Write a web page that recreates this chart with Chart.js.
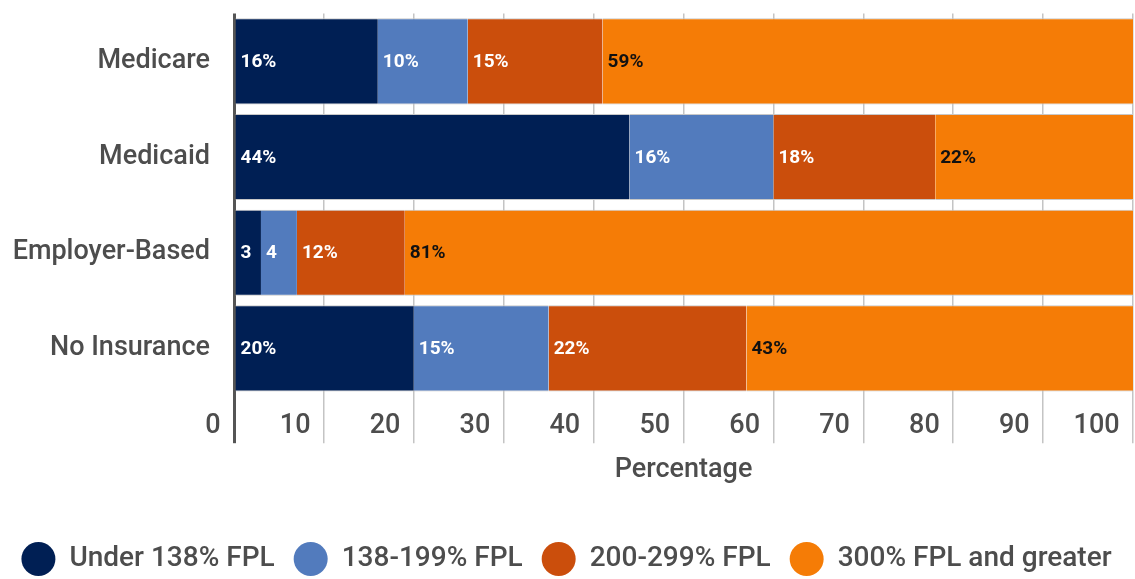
<!DOCTYPE html>
<html>
<head>
<meta charset="utf-8">
<script src="https://cdn.jsdelivr.net/npm/chart.js@4"></script>
<style>
  html, body { margin: 0; padding: 0; background: #fff; }
  #wrap { width: 1135px; height: 579px; position: relative; }
</style>
</head>
<body>
<div id="wrap"><canvas id="fplChart"></canvas></div>
<script>
const categories = ['Medicare', 'Medicaid', 'Employer-Based', 'No Insurance'];
const under138 = [16, 44, 3, 20];
const fpl138to199 = [10, 16, 4, 15];
const fpl200to299 = [15, 18, 12, 22];
const fpl300plus = [59, 22, 81, 43];
const seriesNames = ['Under 138% FPL', '138-199% FPL', '200-299% FPL', '300% FPL and greater'];
const xTicks = [0, 10, 20, 30, 40, 50, 60, 70, 80, 90, 100];

const colors = ['#001f54', '#527bbd', '#cb4e0c', '#f57c06'];
const labelColors = ['#ffffff', '#ffffff', '#ffffff', '#111111'];
const textColor = '#4d4d4d';
const font = { family: 'Roboto', size: 27, weight: '500' };

// value text at the left edge of each segment
const segmentLabels = {
    id: 'segmentLabels',
    afterDatasetsDraw(chart) {
        const ctx = chart.ctx;
        ctx.save();
        ctx.font = 'bold 19px Roboto';
        ctx.textBaseline = 'middle';
        ctx.textAlign = 'left';
        chart.data.datasets.forEach((ds, i) => {
            chart.getDatasetMeta(i).data.forEach((bar, j) => {
                const v = ds.data[j];
                ctx.fillStyle = labelColors[i];
                ctx.fillText(v < 10 ? String(v) : v + '%', Math.min(bar.base, bar.x) + 5, bar.y + 1);
            });
        });
        ctx.restore();
    }
};

const allSeries = [under138, fpl138to199, fpl200to299, fpl300plus];
const isZero = ctx => ctx.tick && ctx.tick.value === 0;

new Chart(document.getElementById('fplChart'), {
    type: 'bar',
    data: {
        labels: categories,
        datasets: allSeries.map((values, i) => ({
            label: seriesNames[i],
            data: values,
            backgroundColor: colors[i],
            borderColor: '#c8c8c8',
            borderWidth: { top: 1, bottom: 1, left: 0, right: 0 },
            borderSkipped: false,
            barPercentage: 0.9,
            categoryPercentage: 1.0
        }))
    },
    options: {
        indexAxis: 'y',
        responsive: true,
        maintainAspectRatio: false,
        animation: false,
        layout: { padding: { left: 0, right: 2, top: 13, bottom: -4 } },
        plugins: {
            legend: {
                position: 'bottom',
                labels: {
                    usePointStyle: true,
                    pointStyle: 'circle',
                    boxHeight: 24,
                    pointStyleWidth: 34,
                    padding: 19,
                    color: textColor,
                    font: { family: 'Roboto', size: 28, weight: '500' },
                    generateLabels(chart) {
                        const items = Chart.defaults.plugins.legend.labels.generateLabels(chart);
                        items.forEach(it => { it.lineWidth = 0; it.strokeStyle = 'rgba(0,0,0,0)'; });
                        return items;
                    }
                }
            },
            tooltip: { enabled: false }
        },
        scales: {
            x: {
                stacked: true,
                min: 0,
                max: 100,
                afterBuildTicks(axis) {
                    axis.ticks = xTicks.map(v => ({ value: v }));
                },
                grid: {
                    color: ctx => isZero(ctx) ? '#555555' : '#c4c4c4',
                    lineWidth: ctx => isZero(ctx) ? 3 : 1.5,
                    tickLength: 47,
                    tickColor: ctx => isZero(ctx) ? '#555555' : '#c4c4c4',
                    tickWidth: ctx => isZero(ctx) ? 3 : 1.5
                },
                border: { display: false },
                ticks: {
                    align: 'end',
                    padding: -33,
                    color: textColor,
                    font: font,
                    callback: v => v + '  '
                },
                title: {
                    display: true,
                    text: 'Percentage',
                    color: textColor,
                    font: font,
                    padding: { top: 44, bottom: 40 }
                }
            },
            y: {
                stacked: true,
                afterFit(axis) {
                    axis.width = 234;
                },
                grid: {
                    drawOnChartArea: false,
                    drawTicks: true,
                    tickLength: 24,
                    color: 'rgba(0,0,0,0)'
                },
                border: { display: false },
                ticks: {
                    padding: 0,
                    color: textColor,
                    font: { family: 'Roboto', size: 27, weight: '500', lineHeight: 1 }
                }
            }
        }
    },
    plugins: [segmentLabels]
});
</script>
</body>
</html>
